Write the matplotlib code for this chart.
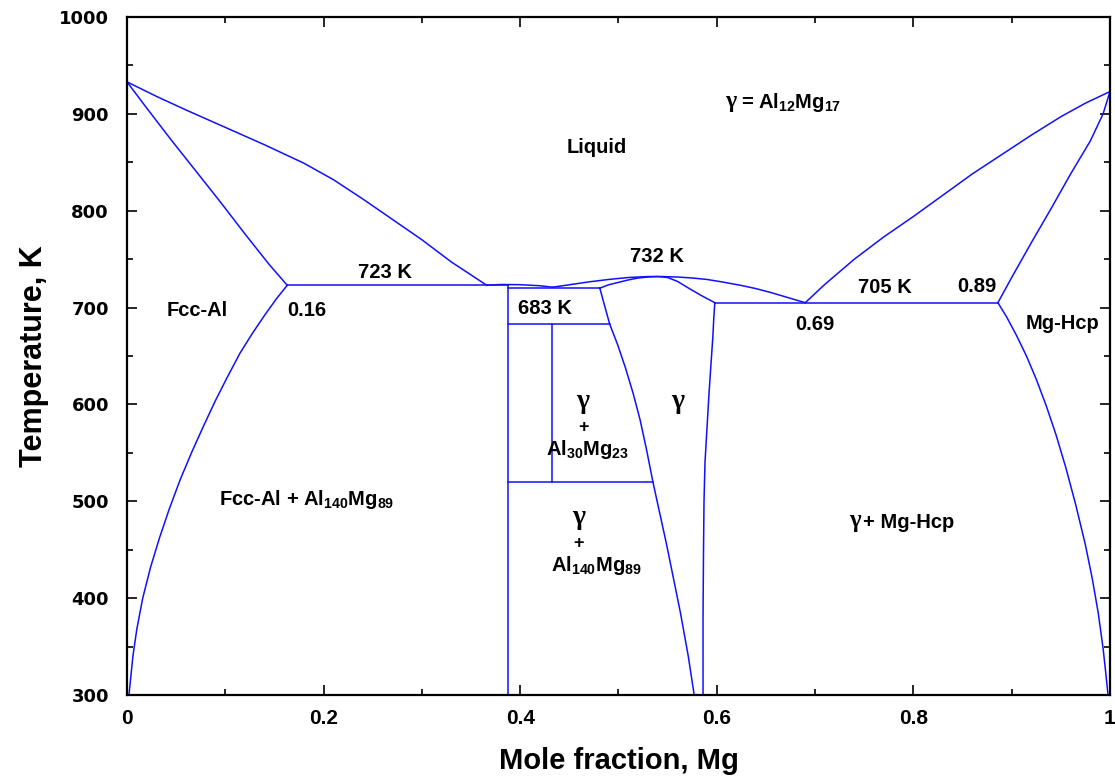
import matplotlib
matplotlib.use('Agg')
import matplotlib.pyplot as plt
from matplotlib.ticker import MultipleLocator, FixedLocator

plt.rcParams['font.family'] = ['Liberation Sans', 'DejaVu Sans']
plt.rcParams['font.weight'] = 'bold'
plt.rcParams['mathtext.fontset'] = 'custom'
plt.rcParams['mathtext.rm'] = 'Liberation Sans:bold'
plt.rcParams['mathtext.it'] = 'Liberation Sans:bold'
plt.rcParams['mathtext.bf'] = 'Liberation Sans:bold'

# Al-Mg phase boundaries (x = mole fraction Mg, T in K)
liq_al_x = [0.0, 0.03, 0.06, 0.10, 0.14, 0.18, 0.21, 0.24, 0.27, 0.30, 0.33, 0.366]
liq_al_t = [933, 918, 904, 886, 868, 849, 832, 812, 791, 770, 747, 723]

sol_al_x = [0.0, 0.02, 0.045, 0.07, 0.095, 0.12, 0.145, 0.163]
sol_al_t = [933, 906, 873, 841, 809, 776, 744, 723]

solv_al_x = [0.163, 0.152, 0.14, 0.128, 0.115, 0.102, 0.09, 0.078, 0.066, 0.054,
             0.043, 0.033, 0.024, 0.016, 0.010, 0.006, 0.003, 0.002]
solv_al_t = [723, 709, 692, 674, 653, 628, 604, 578, 551, 522,
             492, 462, 432, 400, 368, 340, 310, 300]

eut1_x = [0.163, 0.388]
eut1_t = [723, 723]

dome_x = [0.366, 0.38, 0.40, 0.42, 0.433]
dome_t = [723, 723.8, 723.6, 722.5, 721]

peri_x = [0.388, 0.481]
peri_t = [720, 720]

gam_liq_x = [0.433, 0.45, 0.47, 0.49, 0.51, 0.53, 0.545, 0.56, 0.575, 0.59, 0.605,
             0.624, 0.64, 0.655, 0.67, 0.69]
gam_liq_t = [721, 723.5, 726.5, 729, 731, 732, 732, 731.5, 730.5, 729, 726.5,
             723, 719.5, 715.5, 711, 705]

gam_sol_x = [0.481, 0.49, 0.50, 0.51, 0.52, 0.53, 0.54, 0.55, 0.56, 0.573, 0.585, 0.598]
gam_sol_t = [720, 723.5, 726, 728.5, 730.5, 731.5, 732, 731, 727, 719, 712, 705]

gam_solv_l_x = [0.481, 0.491, 0.499, 0.507, 0.515, 0.522, 0.529, 0.535, 0.549, 0.563, 0.571, 0.577]
gam_solv_l_t = [720, 683, 662, 638, 611, 584, 551, 520, 455, 385, 340, 300]

gam_solv_r_x = [0.598, 0.597, 0.596, 0.594, 0.592, 0.590, 0.588, 0.587, 0.5865, 0.586, 0.586]
gam_solv_r_t = [705, 690, 670, 640, 610, 575, 540, 500, 450, 380, 300]

comp_x = [0.388, 0.388]
comp_t = [300, 723]

l683_x = [0.388, 0.491]
l683_t = [683, 683]

l520_x = [0.388, 0.535]
l520_t = [520, 520]

al30_x = [0.432, 0.432]
al30_t = [683, 520]

eut2_x = [0.598, 0.886]
eut2_t = [705, 705]

liq_mg_x = [0.69, 0.71, 0.74, 0.77, 0.80, 0.83, 0.86, 0.89, 0.92, 0.95, 0.975, 1.0]
liq_mg_t = [705, 724, 750, 773, 794, 816, 838, 858, 878, 897, 911, 923]

sol_mg_x = [0.886, 0.90, 0.92, 0.94, 0.96, 0.98, 0.993, 1.0]
sol_mg_t = [705, 731, 767, 802, 838, 872, 900, 923]

solv_mg_x = [0.886, 0.895, 0.905, 0.915, 0.925, 0.935, 0.945, 0.955, 0.965,
             0.975, 0.982, 0.988, 0.993, 0.996, 0.998]
solv_mg_t = [705, 690, 671, 650, 626, 599, 569, 535, 497,
             455, 420, 385, 348, 320, 300]

curvas = [
    (liq_al_x, liq_al_t), (sol_al_x, sol_al_t), (solv_al_x, solv_al_t),
    (eut1_x, eut1_t), (dome_x, dome_t), (peri_x, peri_t),
    (gam_liq_x, gam_liq_t), (gam_sol_x, gam_sol_t),
    (gam_solv_l_x, gam_solv_l_t), (gam_solv_r_x, gam_solv_r_t),
    (comp_x, comp_t), (l683_x, l683_t), (l520_x, l520_t), (al30_x, al30_t),
    (eut2_x, eut2_t), (liq_mg_x, liq_mg_t), (sol_mg_x, sol_mg_t),
    (solv_mg_x, solv_mg_t),
]

x_ticks = [0, 0.2, 0.4, 0.6, 0.8, 1.0]
x_tick_labels = ['0', '0.2', '0.4', '0.6', '0.8', '1']
y_ticks = [300, 400, 500, 600, 700, 800, 900, 1000]

fig = plt.figure(figsize=(11.15, 7.82), dpi=100)
ax = fig.add_axes([0.1139, 0.1113, 0.8816, 0.867])

for cx, ct in curvas:
    ax.plot(cx, ct, color='#1010ff', lw=1.1, solid_joinstyle='round')

ax.set_xlim(0, 1)
ax.set_ylim(300, 1000)

ax.xaxis.set_major_locator(FixedLocator(x_ticks))
ax.set_xticklabels(x_tick_labels)
ax.xaxis.set_minor_locator(MultipleLocator(0.1))
ax.yaxis.set_major_locator(FixedLocator(y_ticks))
ax.yaxis.set_minor_locator(MultipleLocator(50))

ax.tick_params(which='both', direction='in', top=True, right=True, width=1.2, color='black')
ax.tick_params(which='major', length=7)
ax.tick_params(which='minor', length=4)
ax.tick_params(axis='x', which='major', pad=10, labelsize=15)
ax.tick_params(axis='y', which='major', pad=13)
for lbl in ax.get_yticklabels():
    lbl.set_fontfamily('DejaVu Sans')
    lbl.set_fontweight('bold')
    lbl.set_fontsize(13)
for lbl in ax.get_xticklabels():
    lbl.set_fontweight('bold')

for s in ax.spines.values():
    s.set_linewidth(1.6)

ax.set_xlabel('Mole fraction, Mg', fontsize=21, fontweight='bold', labelpad=14)
ax.set_ylabel('Temperature, K', fontsize=22, fontweight='bold', labelpad=7)

fs = 14.5
g = ['Liberation Serif', 'DejaVu Serif']
ax.text(0.614, 913, 'γ', fontsize=17, ha='center', va='center', family=g)
ax.text(0.625, 912, r'= Al$_{12}$Mg$_{17}$', fontsize=fs, ha='left', va='center')
ax.text(0.478, 865, 'Liquid', fontsize=fs, ha='center', va='center')
ax.text(0.539, 753, '732 K', fontsize=fs, ha='center', va='center')
ax.text(0.262, 736, '723 K', fontsize=fs, ha='center', va='center')
ax.text(0.425, 699, '683 K', fontsize=fs, ha='center', va='center')
ax.text(0.771, 721, '705 K', fontsize=fs, ha='center', va='center')
ax.text(0.865, 722, '0.89', fontsize=fs, ha='center', va='center')
ax.text(0.700, 682, '0.69', fontsize=fs, ha='center', va='center')
ax.text(0.183, 697, '0.16', fontsize=fs, ha='center', va='center')
ax.text(0.071, 697, 'Fcc-Al', fontsize=fs, ha='center', va='center')
ax.text(0.952, 684, 'Mg-Hcp', fontsize=fs, ha='center', va='center')

ax.text(0.464, 603, 'γ', fontsize=20, ha='center', va='center', family=g)
ax.text(0.464, 576, '+', fontsize=13, ha='center', va='center')
ax.text(0.468, 553, r'Al$_{30}$Mg$_{23}$', fontsize=fs, ha='center', va='center')

ax.text(0.560, 603, 'γ', fontsize=20, ha='center', va='center', family=g)

ax.text(0.183, 502, r'Fcc-Al + Al$_{140}$Mg$_{89}$', fontsize=fs, ha='center', va='center')

ax.text(0.459, 483, 'γ', fontsize=20, ha='center', va='center', family=g)
ax.text(0.459, 456, '+', fontsize=13, ha='center', va='center')
ax.text(0.478, 434, r'Al$_{140}$Mg$_{89}$', fontsize=fs, ha='center', va='center')

ax.text(0.741, 480, 'γ', fontsize=18, ha='center', va='center', family=g)
ax.text(0.749, 478, '+ Mg-Hcp', fontsize=fs, ha='left', va='center')

fig.savefig('out.png', dpi=100)
